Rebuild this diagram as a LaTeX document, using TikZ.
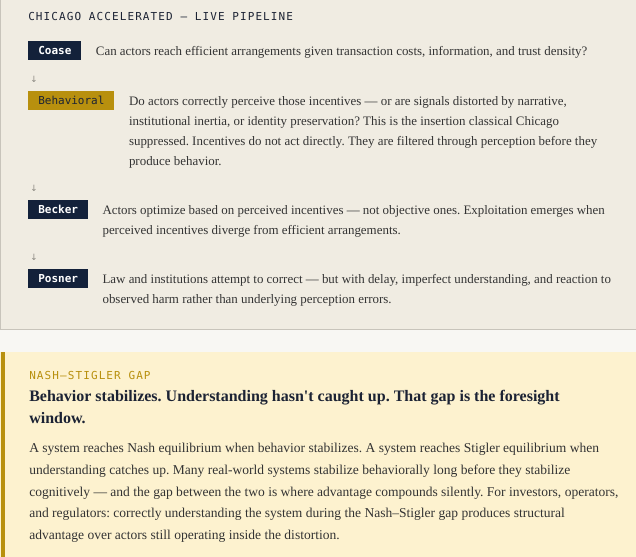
\documentclass[tikz,border=0pt]{standalone}
\usepackage{fontspec}
\setmainfont{Liberation Serif}
\newfontfamily\monofont{DejaVu Sans Mono}
\newfontfamily\spacedmono[LetterSpace=10]{DejaVu Sans Mono}
\newfontfamily\arrowfont{DejaVu Sans}
\usetikzlibrary{positioning}
\frenchspacing

\definecolor{pagebg}{HTML}{F8F7F3}
\definecolor{panelbg}{HTML}{F0ECE2}
\definecolor{panelline}{HTML}{C8C4BB}
\definecolor{navy}{HTML}{13213A}
\definecolor{ochre}{HTML}{B8900E}
\definecolor{gapbg}{HTML}{FDF2CF}
\definecolor{ink}{HTML}{333333}
\definecolor{headink}{HTML}{1C2334}
\definecolor{flowgray}{HTML}{8A8780}

\begin{document}
\begin{tikzpicture}[x=0.75pt, y=-0.75pt,
    darkbadge/.style={fill=navy, text=white, inner xsep=7.5pt, inner ysep=0pt,
        minimum height=14.25pt, text height=6pt, text depth=0pt,
        font=\fontsize{8.25pt}{10pt}\monofont\bfseries},
    goldbadge/.style={darkbadge, fill=ochre, text=headink,
        font=\fontsize{8.25pt}{10pt}\monofont},
    stagetext/.style={text=ink, align=left, inner sep=0pt, anchor=north west,
        font=\fontsize{9.7pt}{15pt}\selectfont},
    flowmark/.style={text=flowgray, inner sep=0pt,
        font=\fontsize{6.5pt}{7pt}\arrowfont},
    paneltitle/.style={text=headink, inner sep=0pt,
        font=\fontsize{8.25pt}{10pt}\spacedmono}]

    % Backgrounds
    \useasboundingbox (0,0) rectangle (636,557);
    \fill[pagebg] (0,0) rectangle (636,557);
    \fill[panelbg] (0.5,0) rectangle (636,329);
    \draw[panelline, line width=0.75pt] (0.5,0) -- (0.5,329) -- (636,329);
    \fill[gapbg] (0,352) rectangle (636,557);
    \fill[ochre] (1,352) rectangle (5,557);

    % Pipeline
    \node[paneltitle, anchor=base west] (title) at (28,20.7) {CHICAGO ACCELERATED — LIVE PIPELINE};

    \node[darkbadge, anchor=north west] (coase) at (28,41) {Coase};
    \node[stagetext, right=10.5pt of coase.north east, anchor=north west] (coasetext)
        {\strut Can actors reach efficient arrangements given transaction costs, information, and trust density?};

    \node[flowmark] (flow1) at (34,79) {↓};

    \node[goldbadge, anchor=north west] (behav) at (28,91) {Behavioral};
    \node[stagetext, right=10.5pt of behav.north east, anchor=north west] (behavtext)
        {\strut Do actors correctly perceive those incentives — or are signals distorted by narrative,\\
         institutional inertia, or identity preservation? This is the insertion classical Chicago\\
         suppressed. Incentives do not act directly. They are filtered through perception before they\\
         produce behavior.};

    \node[flowmark] (flow2) at (34,188) {↓};

    \node[darkbadge, anchor=north west] (becker) at (28,200) {Becker};
    \node[stagetext, right=10.5pt of becker.north east, anchor=north west] (beckertext)
        {\strut Actors optimize based on perceived incentives — not objective ones. Exploitation emerges when\\
         perceived incentives diverge from efficient arrangements.};

    \node[flowmark] (flow3) at (34,257) {↓};

    \node[darkbadge, anchor=north west] (posner) at (28,269) {Posner};
    \node[stagetext, right=10.5pt of posner.north east, anchor=north west] (posnertext)
        {\strut Law and institutions attempt to correct — but with delay, imperfect understanding, and reaction to\\
         observed harm rather than underlying perception errors.};

    % Gap callout
    \node[paneltitle, text=ochre, anchor=base west] (gaplabel) at (29,379) {NASH—STIGLER GAP};
    \node[stagetext, text=headink,
        font=\fontsize{12pt}{16.3pt}\selectfont\bfseries] (gaphead) at (29,385.8)
        {\strut Behavior stabilizes. Understanding hasn\textquotesingle t caught up. That gap is the foresight\\
         window.};
    \node[stagetext, font=\fontsize{10.15pt}{16.3pt}\selectfont] (gapbody) at (29,437.3)
        {\strut A system reaches Nash equilibrium when behavior stabilizes. A system reaches Stigler equilibrium when\\
         understanding catches up. Many real-world systems stabilize behaviorally long before they stabilize\\
         cognitively — and the gap between the two is where advantage compounds silently. For investors, operators,\\
         and regulators: correctly understanding the system during the Nash–Stigler gap produces structural\\
         advantage over actors still operating inside the distortion.};
\end{tikzpicture}
\end{document}
